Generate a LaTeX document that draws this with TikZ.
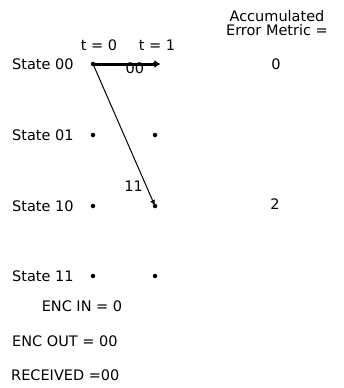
\documentclass[tikz,border=0pt]{standalone}
\usepackage{fontspec}
\setmainfont{DejaVu Sans}
\usepackage{tikz}
\usetikzlibrary{
    positioning,
    arrows.meta
}
\begin{document}
\begin{tikzpicture}[
    x=1pt, y=-1pt,
    font=\fontsize{14.5}{16}\selectfont,
    every node/.style={inner sep=1pt},
    statelbl/.style={anchor=west},
    dot/.style={circle, fill=black, inner sep=0pt, minimum size=4.5pt},
    branch/.style={-{Latex[length=6pt, width=5pt]}, draw=black, line width=1pt},
    infolbl/.style={anchor=west}
]
\useasboundingbox (0,0) rectangle (343,388);

\node (acc) at (277,16) {Accumulated};
\node[below=0pt of acc] (err) {Error Metric =};
\node (tzero) at (99,45) {t = 0};
\node (tone) at (157,45) {t = 1};

\node[statelbl] (st00) at (11,64) {State 00};
\node[statelbl] (st01) at (11,135) {State 01};
\node[statelbl] (st10) at (11,206) {State 10};
\node[statelbl] (st11) at (11,276) {State 11};

\node[dot] (a00) at (93,64) {};
\node[dot] (a01) at (93,135) {};
\node[dot] (a10) at (93,206) {};
\node[dot] (a11) at (93,276) {};
\node[dot] (b00) at (155,64) {};
\node[dot] (b01) at (155,135) {};
\node[dot] (b10) at (155,206) {};
\node[dot] (b11) at (155,276) {};

\node (m00) at (276,64) {0};
\node (m10) at (275,204) {2};

\draw[branch, line width=3pt, -{Latex[length=6pt, width=8pt]}] (a00.center) -- ([xshift=3pt]b00.east) node[pos=0.62, below=-4pt] (w00) {00};
\draw[branch] (a00.center) -- node[pos=0.86, left=2pt] (w11) {11} (b10.center);

\node (encin) at (82,306) {ENC IN = 0};
\node[infolbl] (encout) at (11,341) {ENC OUT = 00};
\node[infolbl] (recv) at (10,375) {RECEIVED =00};
\end{tikzpicture}
\end{document}
